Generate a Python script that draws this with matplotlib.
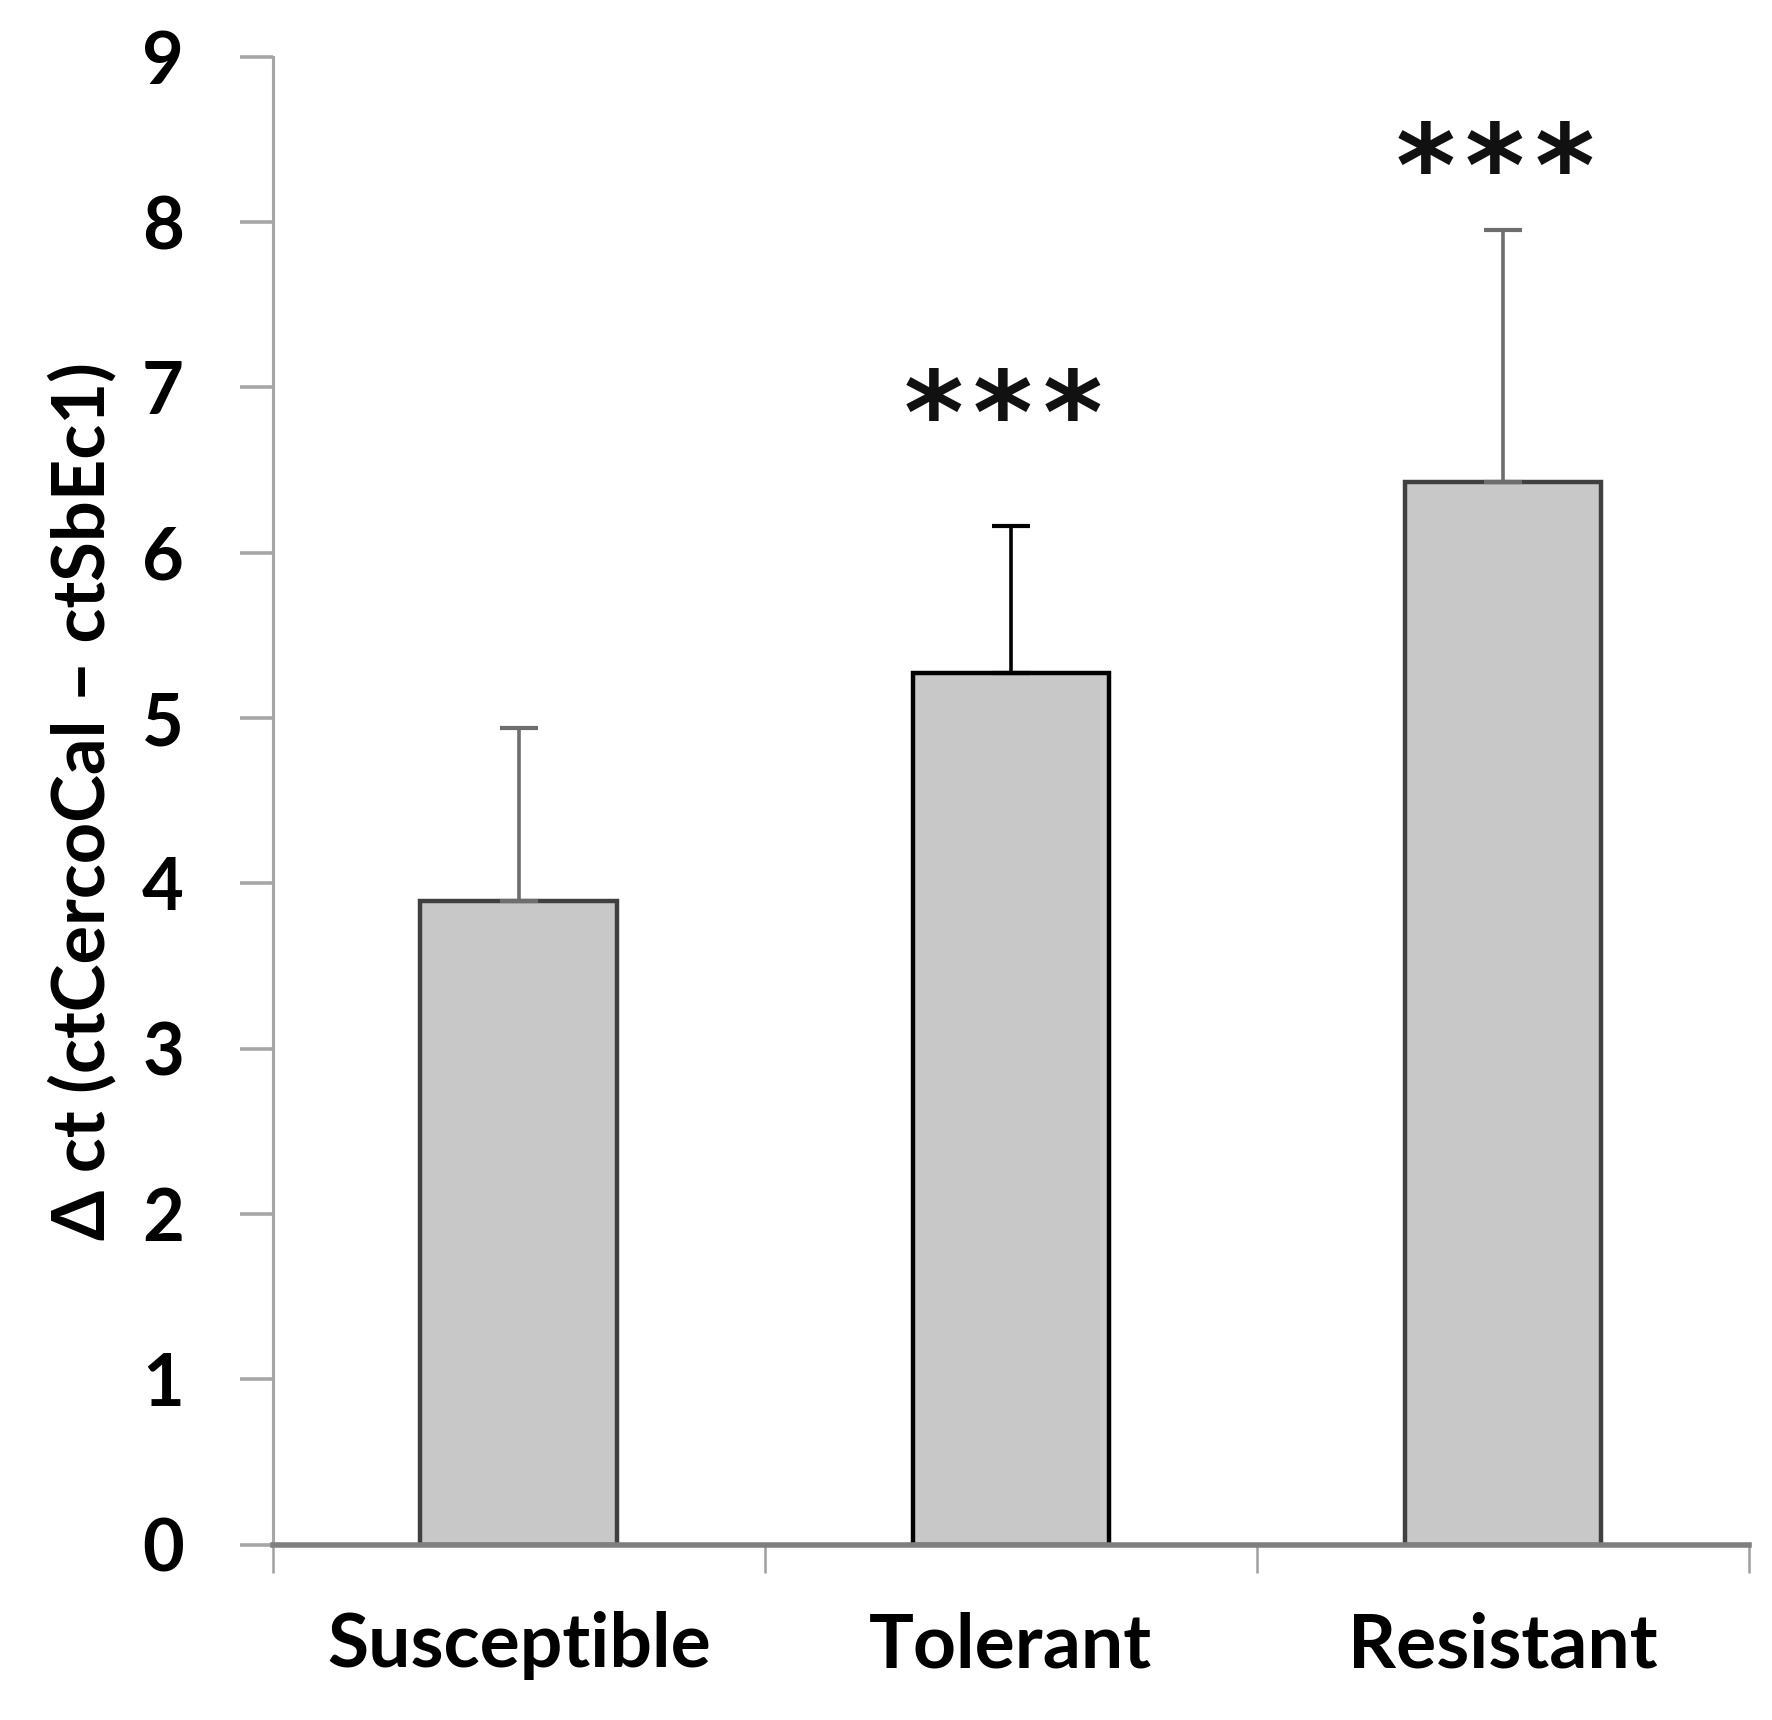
import matplotlib.pyplot as plt
import numpy as np

# values
groups = ["Susceptible", "Tolerant", "Resistant"]
delta_ct = [3.89, 5.27, 6.43]
err_up = [1.05, 0.89, 1.52]
n_stars = [0, 3, 3]
star_y = [0.0, 6.97, 8.46]
edge_cols = ["#404040", "#000000", "#404040"]
err_cols = ["#6e6e6e", "#000000", "#6e6e6e"]
yticks = [0, 1, 2, 3, 4, 5, 6, 7, 8, 9]

plt.rcParams["font.family"] = ["Lato", "DejaVu Sans"]
plt.rcParams["font.weight"] = "bold"

fig = plt.figure(figsize=(17.72, 17.20), dpi=100)
ax = fig.add_axes([0.154, 0.102, 0.833, 0.865])

star_size = 82
star_gap = 50  # points between star centres
x = np.arange(len(groups))
for i in range(len(groups)):
    ax.bar(x[i], delta_ct[i], width=0.40, color="#c8c8c8",
           edgecolor=edge_cols[i], linewidth=3.2, zorder=2)
    ax.errorbar(x[i], delta_ct[i], yerr=[[0], [err_up[i]]], fmt="none",
                ecolor=err_cols[i], elinewidth=2.6, capsize=14,
                capthick=3.0, zorder=3)
    for k in range(n_stars[i]):
        # asterisks sit high in the em box, so shift the baseline down
        dx = (k - (n_stars[i] - 1) / 2) * star_gap - 6
        ax.annotate("*", (x[i], star_y[i]), xytext=(dx, -0.53 * star_size),
                    textcoords="offset points", ha="center", va="baseline",
                    fontsize=star_size, fontweight="bold",
                    family=["DejaVu Sans"], color="#111111")

ax.set_xlim(-0.5, 2.5)
ax.set_ylim(0, 9)
ax.set_yticks(yticks)
ax.set_yticklabels([str(t) for t in yticks])

# category boundaries as ticks, names at the centres
ax.set_xticks(np.arange(-0.5, len(groups), 1.0))
ax.set_xticklabels([])
ax.set_xticks(x, minor=True)
ax.set_xticklabels(groups, minor=True)
ax.tick_params(axis="x", which="major", length=20, width=1.8,
               color="#a0a0a0", direction="out")
ax.tick_params(axis="x", which="minor", length=0, pad=48, labelsize=54)
ax.tick_params(axis="y", length=24, width=2.6, color="#a6a6a6",
               direction="out", pad=40, labelsize=52)

for side in ["top", "right"]:
    ax.spines[side].set_visible(False)
ax.spines["left"].set_color("#a6a6a6")
ax.spines["left"].set_linewidth(2.2)
ax.spines["bottom"].set_color("#7f7f7f")
ax.spines["bottom"].set_linewidth(4)

ax.set_ylabel("\u0394 ct (ctCercoCal \u2013 ctSbEc1)", fontsize=52,
              fontweight="bold", labelpad=18)

fig.savefig("out.png", dpi=100, facecolor="white")
